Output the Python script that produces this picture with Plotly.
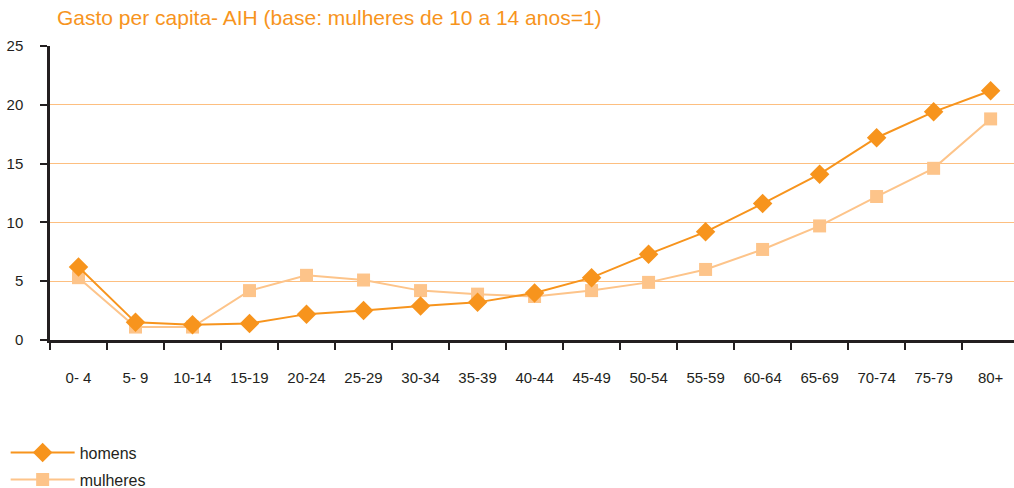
import plotly.graph_objects as go

# Faixas etárias e gasto per capita relativo (base: mulheres 10-14 = 1)
faixas = ["0- 4", "5- 9", "10-14", "15-19", "20-24", "25-29", "30-34", "35-39",
          "40-44", "45-49", "50-54", "55-59", "60-64", "65-69", "70-74", "75-79", "80+"]
homens = [6.2, 1.5, 1.3, 1.4, 2.2, 2.5, 2.9, 3.2, 4.0, 5.3, 7.3, 9.2, 11.6, 14.1, 17.2, 19.4, 21.2]
mulheres = [5.3, 1.1, 1.1, 4.2, 5.5, 5.1, 4.2, 3.9, 3.7, 4.2, 4.9, 6.0, 7.7, 9.7, 12.2, 14.6, 18.8]
y_ticks = [0, 5, 10, 15, 20, 25]

COR_H = "#F7941D"
COR_M = "#FDC48A"
FONTE = "Liberation Sans, Arial, sans-serif"

fig = go.Figure()
fig.add_trace(go.Scatter(
    x=faixas, y=mulheres, name="mulheres", mode="lines+markers",
    line=dict(color=COR_M, width=2),
    marker=dict(symbol="square", size=13, color=COR_M),
    legend="legend2",
))
fig.add_trace(go.Scatter(
    x=faixas, y=homens, name="homens", mode="lines+markers",
    line=dict(color=COR_H, width=2),
    marker=dict(symbol="diamond", size=15, color=COR_H),
    legend="legend",
))

fig.update_layout(
    width=1014, height=488,
    margin=dict(l=50, r=0, t=46, b=148, autoexpand=False),
    paper_bgcolor="white", plot_bgcolor="white",
    font=dict(family=FONTE, size=15, color="#231F20"),
    title=dict(text="Gasto per capita- AIH (base: mulheres de 10 a 14 anos=1)",
               x=57 / 1014, xanchor="left", y=1 - 18 / 488, yanchor="middle",
               font=dict(family=FONTE, size=21, color=COR_H)),
    showlegend=True,
    legend=dict(x=-0.046, xanchor="left", y=-0.325, yanchor="top",
                bgcolor="rgba(0,0,0,0)", font=dict(size=16), itemwidth=64),
    legend2=dict(x=-0.046, xanchor="left", y=-0.417, yanchor="top",
                 bgcolor="rgba(0,0,0,0)", font=dict(size=16), itemwidth=64),
)
fig.update_xaxes(
    type="category", range=[-0.5, 16.41], tickson="boundaries",
    ticks="outside", ticklen=7, tickwidth=2, tickcolor="#231F20",
    showline=True, linecolor="#231F20", linewidth=2.5,
    showgrid=False, ticklabelstandoff=22, automargin=False,
)
fig.update_yaxes(
    range=[0, 25], tickvals=y_ticks,
    ticks="outside", ticklen=7, tickwidth=2, tickcolor="#231F20",
    showline=True, linecolor="#231F20", linewidth=2.5,
    showgrid=True, gridcolor="#FDBF80", gridwidth=1.3,
    zeroline=False, ticklabelstandoff=14, automargin=False,
)

fig.write_html("out.html")
